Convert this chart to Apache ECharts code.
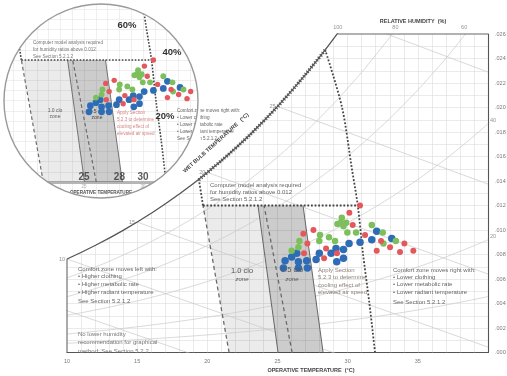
<!DOCTYPE html>
<html>
<head>
<meta charset="utf-8">
<script src="https://cdn.jsdelivr.net/npm/echarts@6/dist/echarts.min.js"></script>
<style>
  html, body { margin: 0; background: #fff; }
  #chart { width: 507px; height: 376px; }
</style>
</head>
<body>
<div id="chart"></div>
<script>
// psychrometric background (kPa)
const satTemps = [10, 12, 14, 16, 18, 20, 22, 24, 26, 28, 30, 32, 34, 36, 38, 40];
const satPressure = [1.228, 1.403, 1.599, 1.818, 2.064, 2.339, 2.645, 2.985, 3.363, 3.782, 4.246, 4.759, 5.324, 5.947, 6.632, 7.384];
const rhLevels = [10, 20, 40, 60, 80];
const wetBulbTemps = [5, 10, 15, 20, 25, 30];
const wetBulbPressure = [0.8725, 1.228, 1.705, 2.339, 3.169, 4.246];
const wetBulbLabels = [10, 15, 20, 25];
const rhTopLabels = [100, 80, 60];
const rhTopLabelTemps = [29.3, 33.4, 38.3];
const rhSideLabels = [40, 20];

// comfort zones: operative temp at humidity ratio 0 and at the 0.012 limit
const humidityLimit = 0.012;
const clo10Left = [21.55, 19.69];
const clo10Right = [26.04, 24.04];
const clo05Left = [25.04, 23.61];
const clo05Right = [28.25, 26.82];
const cloLeftTop = [19.40, 0.0141];
const airSpeedLine = [[31.95, 0], [31.55, 0.004], [31.1, 0.008], [30.72, 0.012], [30.3, 0.015], [29.6, 0.020], [28.4, 0.0247]];

// measured points [operative temp, humidity ratio]
const redPoints = [[30.88, 0.0120], [30.12, 0.0114], [30.36, 0.0104], [27.56, 0.0100], [27.13, 0.0089], [26.89, 0.0081],
  [28.32, 0.0077], [28.46, 0.0085], [31.24, 0.0096], [32.38, 0.0091], [32.07, 0.0083], [33.02, 0.0086], [33.73, 0.0082],
  [34.04, 0.0089], [34.68, 0.0083], [26.84, 0.0097], [29.24, 0.0081]];
const greenPoints = [[29.27, 0.0105], [29.51, 0.0106], [29.89, 0.0106], [29.70, 0.0103], [29.58, 0.0110], [28.03, 0.0096],
  [27.98, 0.0091], [28.67, 0.0094], [29.10, 0.0091], [26.01, 0.0083], [26.56, 0.0091], [26.49, 0.0086], [30.60, 0.0098],
  [31.72, 0.0104], [32.50, 0.0098], [32.55, 0.0089], [33.43, 0.0091], [29.98, 0.0098]];
const bluePoints = [[30.88, 0.0090], [32.07, 0.0099], [31.72, 0.0092], [33.14, 0.0093], [30.10, 0.0089], [29.70, 0.0084],
  [29.17, 0.0085], [28.82, 0.0081], [27.98, 0.0081], [27.75, 0.0076], [29.22, 0.0074], [29.70, 0.0077], [25.54, 0.0075],
  [26.01, 0.0078], [26.37, 0.0081], [26.49, 0.0074], [27.08, 0.0075], [25.42, 0.0069], [26.49, 0.0069], [27.13, 0.0069]];
const insetTempLabels = [25, 28, 30];
const insetTickLabels = [25, 30];

const FONT = '"Liberation Sans", Arial, sans-serif';
const P_ATM = 101.325;
const W_MAX = 0.026;
const ratio = (p, phi) => 0.622 * phi * p / (P_ATM - phi * p);
const magnus = t => 0.61094 * Math.exp(17.625 * t / (t + 243.04));
const dewPoint = w => {
  const a = Math.log(w * P_ATM / (0.622 + w) / 0.61094);
  return 243.04 * a / (17.625 - a);
};
const wbRatio = (t, i) => {
  const twb = wetBulbTemps[i];
  return ((2501 - 2.326 * twb) * ratio(wetBulbPressure[i], 1) - 1.006 * (t - twb)) / (2501 + 1.86 * t - 4.186 * twb);
};

const satCurve = satTemps.map((t, i) => [t, ratio(satPressure[i], 1)]);
const satTopTemp = dewPoint(W_MAX);

// grid lines only below the saturation curve
const gridLines = [];
for (let t = 11; t < 40; t++) gridLines.push({ coords: [[t, 0], [t, Math.min(ratio(magnus(t), 1), W_MAX)]] });
for (let k = 1; k <= 25; k++) {
  const w = k / 1000;
  gridLines.push({ coords: [[Math.max(10, dewPoint(w)), w], [40, w]] });
}

// inset circle layout
const CX = 101, CY = 101, R = 97;
const INSET_PX_T = 11.8, INSET_PX_W = 10167, INSET_T25_X = 84, INSET_ZERO_Y = 182;

function lineSeries(xi, data, style, extra) {
  return Object.assign({
    type: 'line', xAxisIndex: xi, yAxisIndex: xi, data, symbol: 'none', silent: true,
    lineStyle: style, z: xi === 0 ? 6 : 3
  }, extra || {});
}

function scatterSeries(xi, data, color, size) {
  return {
    type: 'scatter', xAxisIndex: xi, yAxisIndex: xi, data, symbolSize: size, silent: true,
    itemStyle: { color, opacity: 1 }, z: xi === 0 ? 6 : 3
  };
}

function zoneSeries(xi) {
  return {
    type: 'custom', xAxisIndex: xi, yAxisIndex: xi, z: xi === 0 ? 6 : 3, silent: true,
    data: [[0], [1]],
    renderItem(params, api) {
      const pair = params.dataIndex === 0 ? [clo10Left, clo05Left] : [clo05Left, clo05Right];
      const pts = [[pair[0][0], 0], [pair[0][1], humidityLimit], [pair[1][1], humidityLimit], [pair[1][0], 0]]
        .map(p => api.coord(p));
      return {
        type: 'polygon', shape: { points: pts },
        style: { fill: params.dataIndex === 0 ? 'rgba(0,0,0,0.08)' : 'rgba(0,0,0,0.2)' }
      };
    }
  };
}

function comfortLayer(xi, s) {
  const dashed = { color: '#6a6a6a', width: 1.3 * s, type: [4 * s, 3 * s] };
  const solid = { color: '#666', width: 1 * s };
  const dotted = { color: '#444', width: 1.8 * s, type: 'dotted' };
  return [
    zoneSeries(xi),
    lineSeries(xi, [[clo10Left[0], 0], [clo10Left[1], humidityLimit]], dashed),
    lineSeries(xi, [[clo10Right[0], 0], [clo10Right[1], humidityLimit]], dashed),
    lineSeries(xi, [[clo05Left[0], 0], [clo05Left[1], humidityLimit]], solid),
    lineSeries(xi, [[clo05Right[0], 0], [clo05Right[1], humidityLimit]], solid),
    lineSeries(xi, [[clo10Left[1], humidityLimit], [airSpeedLine[3][0], humidityLimit]], dotted),
    lineSeries(xi, [[clo10Left[1], humidityLimit], cloLeftTop], dotted),
    lineSeries(xi, airSpeedLine, dotted, { smooth: 0.3 }),
    scatterSeries(xi, bluePoints, '#2e6db5', 7.5 * s),
    scatterSeries(xi, greenPoints, '#7cbf5c', 6.5 * s),
    scatterSeries(xi, redPoints, '#e4585d', 6 * s)
  ];
}

const hatchSegment = [cloLeftTop]
  .concat(satCurve.filter(p => p[0] > cloLeftTop[0] && p[0] < airSpeedLine[6][0]))
  .concat([airSpeedLine[6]]);

const thin = { color: '#c9c9c9', width: 0.7 };
const labelStyle = { fontSize: 5.5, color: '#777', fontFamily: FONT };

const series = [
  {
    type: 'lines', coordinateSystem: 'cartesian2d', xAxisIndex: 0, yAxisIndex: 0, z: 6, silent: true,
    data: gridLines, lineStyle: { color: '#dcdcdc', width: 0.6, opacity: 1 }
  },
  ...rhLevels.map(rh => lineSeries(0, satTemps.map((t, i) => [t, ratio(satPressure[i], rh / 100)]), thin, { smooth: true })),
  ...wetBulbTemps.map((t, i) => lineSeries(0, [[t, ratio(wetBulbPressure[i], 1)], [40, wbRatio(40, i)]], thin)),
  ...comfortLayer(0, 1),
  lineSeries(0, satCurve, { color: '#555', width: 1.3 }, { smooth: true }),
  lineSeries(0, hatchSegment, { color: '#555', width: 3.5, type: [1.2, 1.8] }, { smooth: true }),
  lineSeries(0, [[10, 0], [10, satCurve[0][1]]], { color: '#666', width: 1.1 }, { clip: false }),
  lineSeries(0, [[satTopTemp, W_MAX], [40, W_MAX]], { color: '#666', width: 1.1 }, { clip: false }),
  {
    type: 'scatter', xAxisIndex: 0, yAxisIndex: 0, z: 7, silent: true, symbolSize: 0,
    data: wetBulbLabels.map(t => [t, ratio(wetBulbPressure[wetBulbTemps.indexOf(t)], 1)]),
    label: { show: true, position: 'left', distance: 2, formatter: p => p.value[0], ...labelStyle }
  },
  {
    type: 'scatter', xAxisIndex: 0, yAxisIndex: 0, z: 7, silent: true, symbolSize: 0,
    data: rhTopLabels.map((rh, i) => [rhTopLabelTemps[i], W_MAX, rh]),
    label: { show: true, position: 'top', distance: 4, formatter: p => p.value[2], ...labelStyle }
  },
  {
    type: 'scatter', xAxisIndex: 0, yAxisIndex: 0, z: 7, silent: true, symbolSize: 0,
    data: rhSideLabels.map(rh => [40, ratio(satPressure[satPressure.length - 1], rh / 100), rh]),
    label: { show: true, position: 'right', distance: 2, offset: [0, -3], formatter: p => p.value[2], ...labelStyle }
  },
  // inset
  ...comfortLayer(1, 0.9),
  {
    type: 'scatter', xAxisIndex: 1, yAxisIndex: 1, z: 3, silent: true, symbolSize: 0,
    data: insetTempLabels.map(t => [t, 0]),
    label: { show: true, position: 'top', distance: 0, formatter: p => p.value[0],
      fontSize: 10, fontWeight: 'bold', color: '#333', fontFamily: FONT }
  },
  {
    type: 'scatter', xAxisIndex: 1, yAxisIndex: 1, z: 3, silent: true, symbolSize: 0,
    data: insetTickLabels.map(t => [t, 0]),
    label: { show: true, position: 'bottom', distance: 2.5, formatter: p => p.value[0],
      fontSize: 4.5, color: '#999', fontFamily: FONT }
  }
];

function text(x, y, str, font, fill, opts) {
  const o = opts || {};
  return {
    type: 'text', x, y, z: o.z || 10, silent: true, rotation: o.rotation || 0,
    style: {
      text: str, font, fill: fill || '#666', align: o.align || 'left',
      verticalAlign: o.lineHeight ? 'top' : 'middle', lineHeight: o.lineHeight
    }
  };
}
const px = (size, extra) => (extra ? extra + ' ' : '') + size + 'px ' + FONT;

// white mask: inset box minus the circle (keyhole polygon)
const maskPts = [[200, CY], [200, 200], [2, 200], [2, 2], [200, 2], [200, CY], [CX + R, CY]];
for (let i = 1; i <= 90; i++) {
  const a = -2 * Math.PI * i / 90;
  maskPts.push([CX + R * Math.cos(a), CY + R * Math.sin(a)]);
}

const small = 4.6;
const graphics = [
  { type: 'polygon', z: 4, silent: true, shape: { points: maskPts }, style: { fill: '#fff' } },
  { type: 'circle', z: 5, silent: true, shape: { cx: CX, cy: CY, r: R }, style: { fill: 'none', stroke: '#9a9a9a', lineWidth: 1.4 } },

  text(210, 181.5, 'Computer model analysis required\nfor humidity ratios above 0.012\nSee Section 5.2.1.2', px(6), '#666', { lineHeight: 7 }),
  text(78, 265.2, 'Comfort zone moves left with:\n• Higher clothing\n• Higher metabolic rate\n• Higher radiant temperature', px(6), '#666', { lineHeight: 7.7 }),
  text(78, 301, 'See Section 5.2.1.2', px(6), '#666'),
  text(78, 329.8, 'No lower humidity\nrecommendation for graphical\nmethod: See Section 5.2.2', px(6), '#777', { lineHeight: 8.5 }),
  text(242, 271, '1.0 clo', px(7.5), '#555', { align: 'center' }),
  text(242, 279, 'zone', px(6, 'italic'), '#555', { align: 'center' }),
  text(292, 270, '0.5 clo', px(7.5), '#555', { align: 'center' }),
  text(292, 279, 'zone', px(6, 'italic'), '#555', { align: 'center' }),
  text(318, 266.3, 'Apply Section\n5.2.3 to determine\ncooling effect of\nelevated air speed', px(6), '#8d7f77', { lineHeight: 7.5 }),
  text(393, 266.3, 'Comfort zone moves right with:\n• Lower clothing\n• Lower metabolic rate\n• Lower radiant temperature', px(6), '#666', { lineHeight: 7.4 }),
  text(393, 302, 'See Section 5.2.1.2', px(6), '#666'),
  text(311, 370, 'OPERATIVE TEMPERATURE  (°C)', px(5.5, 'bold'), '#444', { align: 'center' }),
  text(413, 21, 'RELATIVE HUMIDITY  (%)', px(5.5, 'bold'), '#444', { align: 'center' }),
  text(216, 143, 'WET BULB TEMPERATURE   (°C)', px(5.5, 'bold'), '#444', { align: 'center', rotation: 42 * Math.PI / 180 }),

  // inset annotations (under the mask)
  text(33, 39.5, 'Computer model analysis required\nfor humidity ratios above 0.012\nSee Section 5.2.1.2', px(small), '#777', { lineHeight: 7, z: 3 }),
  text(55, 108, '1.0 clo\nzone', px(5), '#666', { lineHeight: 6, z: 3, align: 'center' }),
  text(97, 109, '0.5 clo\nzone', px(5), '#555', { lineHeight: 6, z: 3, align: 'center' }),
  text(117, 109.5, 'Apply Section\n5.2.3 to determine\ncooling effect of\nelevated air speed', px(small), '#d98585', { lineHeight: 7, z: 3 }),
  text(177, 107.5, 'Comfort zone moves right with:\n• Lower clothing\n• Lower metabolic rate\n• Lower radiant temperature\nSee Section 5.2.1.2', px(small), '#666', { lineHeight: 7, z: 3 }),
  text(165, 116, '20%', px(9.5, 'bold'), '#333', { align: 'center', z: 3 }),
  text(127, 25, '60%', px(9.5, 'bold'), '#333', { align: 'center', z: 3 }),
  text(172, 52, '40%', px(9.5, 'bold'), '#333', { align: 'center', z: 3 }),
  text(101, 192.5, 'OPERATIVE TEMPERATURE', px(4.6, 'bold'), '#555', { align: 'center', z: 3 })
];

const insetTMin = 25 - (INSET_T25_X - (CX - R)) / INSET_PX_T;
const insetTMax = 25 + (CX + R - INSET_T25_X) / INSET_PX_T;
const insetWMax = (INSET_ZERO_Y - (CY - R)) / INSET_PX_W;
const insetWMin = -((CY + R) - INSET_ZERO_Y) / INSET_PX_W;

const option = {
  animation: false,
  backgroundColor: '#fff',
  grid: [
    { left: 67, right: 19, top: 34, bottom: 23.5, outerBoundsMode: 'none' },
    { left: CX - R, top: CY - R, width: 2 * R, height: 2 * R, outerBoundsMode: 'none' }
  ],
  xAxis: [
    {
      type: 'value', gridIndex: 0, min: 10, max: 40, interval: 5,
      axisLine: { show: true, onZero: false, lineStyle: { color: '#555', width: 1.1 } },
      axisTick: { show: false }, splitLine: { show: false },
      axisLabel: { formatter: v => (v < 40 ? v : ''), margin: 6, ...labelStyle }
    },
    {
      type: 'value', gridIndex: 1, min: insetTMin, max: insetTMax, minInterval: 1, maxInterval: 1, z: 2,
      axisLine: { show: true, onZero: true, lineStyle: { color: '#b5b5b5', width: 3 } },
      axisTick: { show: false }, axisLabel: { show: false },
      splitLine: { show: true, lineStyle: { color: '#e4e4e4', width: 0.6 } }
    }
  ],
  yAxis: [
    {
      type: 'value', gridIndex: 0, min: 0, max: W_MAX, interval: 0.002, position: 'right',
      axisLine: { show: true, lineStyle: { color: '#555', width: 1.1 } },
      axisTick: { show: false }, splitLine: { show: false },
      axisLabel: { formatter: v => v.toFixed(3).slice(1), margin: 7, ...labelStyle }
    },
    {
      type: 'value', gridIndex: 1, min: insetWMin, max: insetWMax, minInterval: 0.001, maxInterval: 0.001, z: 2,
      axisLine: { show: false }, axisTick: { show: false }, axisLabel: { show: false },
      splitLine: { show: true, lineStyle: { color: '#e4e4e4', width: 0.6 } }
    }
  ],
  series,
  graphic: { elements: graphics }
};

const chart = echarts.init(document.getElementById('chart'));
chart.setOption(option);
</script>
</body>
</html>
